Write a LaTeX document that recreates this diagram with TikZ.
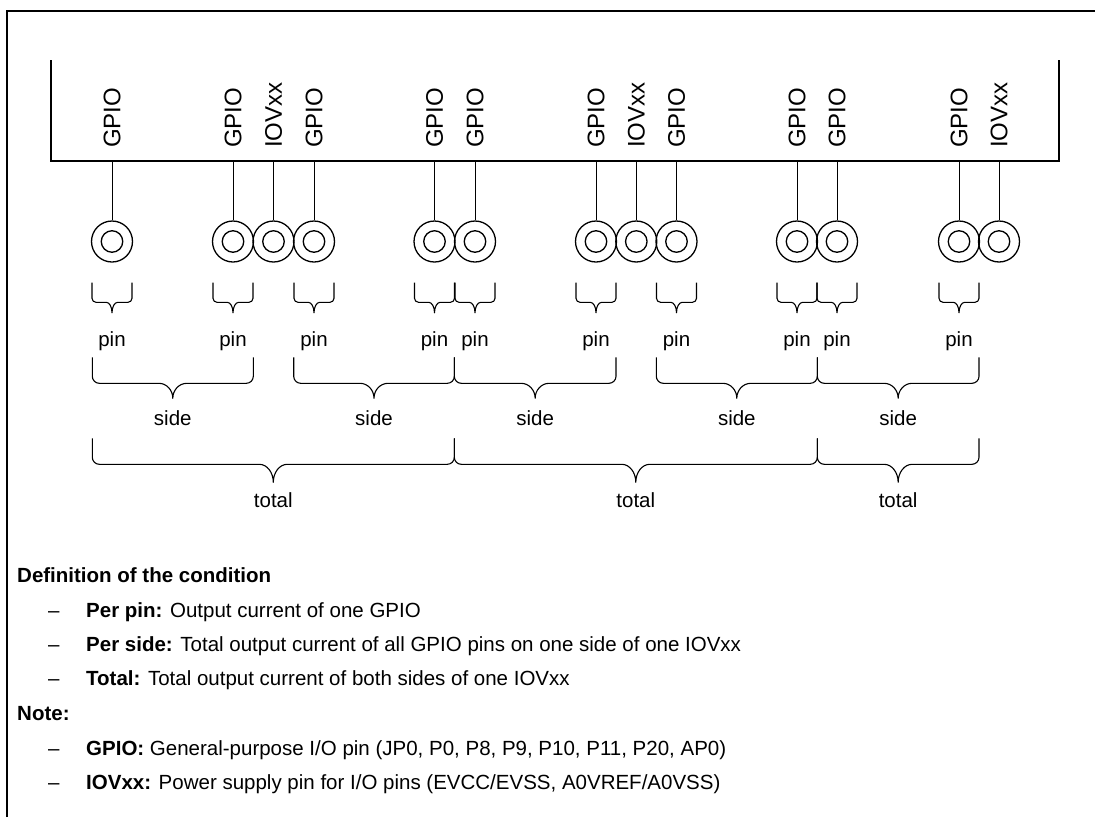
\documentclass[tikz,border=0pt]{standalone}
\usepackage{fontspec}
\setmainfont{Liberation Sans}

% Curly brace opening upwards: vertical arms, rounded corners, pointed tip below.
% #1 left x, #2 right x, #3 arm top y, #4 flat y, #5 tip depth, #6 tip half width, #7 corner radius
\newcommand\drawbrace[7]{%
  \pgfmathsetmacro\bxl{#1}%
  \pgfmathsetmacro\bxr{#2}%
  \pgfmathsetmacro\bxm{(\bxl+\bxr)/2}%
  \draw[bracepath] (\bxl,#3) -- (\bxl,#4-#7)
    .. controls (\bxl,#4-0.448*#7) and (\bxl+0.448*#7,#4) .. (\bxl+#7,#4)
    -- (\bxm-#6,#4)
    .. controls (\bxm-0.448*#6,#4) and (\bxm,#4+0.448*#5) .. (\bxm,#4+#5)
    .. controls (\bxm,#4+0.448*#5) and (\bxm+0.448*#6,#4) .. (\bxm+#6,#4)
    -- (\bxr-#7,#4)
    .. controls (\bxr-0.448*#7,#4) and (\bxr,#4-0.448*#7) .. (\bxr,#4-#7)
    -- (\bxr,#3);%
}

\begin{document}
\begin{tikzpicture}[x=1pt,y=-1pt,
  frame/.style={line width=2pt},
  chip/.style={line width=1.7pt},
  lead/.style={line width=1pt},
  pad/.style={circle,draw,line width=1.3pt,minimum size=41pt,inner sep=0pt},
  padhole/.style={circle,draw,line width=1.3pt,minimum size=21.5pt,inner sep=0pt},
  pinname/.style={rotate=90,anchor=west,inner sep=0pt,font=\fontsize{24}{24}\selectfont},
  bracelabel/.style={anchor=base,inner sep=0pt,font=\fontsize{20.5}{22}\selectfont},
  notetext/.style={anchor=base west,inner sep=0pt,font=\fontsize{20.5}{22}\selectfont},
  bracepath/.style={line width=1.1pt,line join=round}
]
\useasboundingbox (0,0) rectangle (1095,817);

% outer frame
\draw[frame] (7,817) -- (7,11) -- (1095,11);

% device outline
\draw[chip] (51,60) -- (51,161) -- (1059,161) -- (1059,60);

% pins with their names and pads
\foreach \x/\lab [count=\i] in {112/GPIO,233/GPIO,273.5/IOVxx,314/GPIO,434.5/GPIO,475/GPIO,
    596/GPIO,636.3/IOVxx,676.5/GPIO,797/GPIO,837/GPIO,959/GPIO,999/IOVxx} {
  \coordinate (lead\i) at (\x,161);
  \node[pinname] (name\i) at (\x,148) {\lab};
  \node[pad] (pad\i) at (\x,241.5) {};
  \node[padhole] (hole\i) at (\x,241.5) {};
  \draw[lead] (lead\i) -- (pad\i.north);
}

% per pin braces
\foreach \x [count=\i] in {112,233,314,434.5,475,596,676.5,797,837,959} {
  \drawbrace{\x-20}{\x+20}{282.7}{302.3}{10.4}{5.7}{4}
  \node[bracelabel] (pinlab\i) at (\x,346) {pin};
}

% per side braces
\foreach \a/\b [count=\i] in {92.3/253.3,293.7/454.3,454.3/616,656.3/817.3,817.3/979} {
  \drawbrace{\a}{\b}{357.3}{383.3}{15}{14}{7}
  \node[bracelabel] (sidelab\i) at ({(\a+\b)/2},425.3) {side};
}

% total braces
\foreach \a/\b [count=\i] in {92.3/454.3,454.3/817.3,817.3/979} {
  \drawbrace{\a}{\b}{438.3}{464.3}{18}{14}{7}
  \node[bracelabel] (totallab\i) at ({(\a+\b)/2},507.3) {total};
}

% definitions and notes
\node[notetext] (defhead) at (17,582) {\textbf{Definition of the condition}};
\node[notetext] (dashA) at (48,617) {–};
\node[notetext] (defpin) at (86,617) {\textbf{Per pin:} Output current of one GPIO};
\node[notetext] (dashB) at (48,651.7) {–};
\node[notetext] (defside) at (86,651.7) {\textbf{Per side:} Total output current of all GPIO pins on one side of one IOVxx};
\node[notetext] (dashC) at (48,685.7) {–};
\node[notetext] (deftotal) at (86,685.7) {\textbf{Total:} Total output current of both sides of one IOVxx};
\node[notetext] (notehead) at (17,720) {\textbf{Note:}};
\node[notetext] (dashD) at (48,755) {–};
\node[notetext] (notegpio) at (86,755) {\textbf{GPIO:} General-purpose I/O pin (JP0, P0, P8, P9, P10, P11, P20, AP0)};
\node[notetext] (dashE) at (48,789) {–};
\node[notetext] (noteiov) at (86,789) {\textbf{IOVxx:} Power supply pin for I/O pins (EVCC/EVSS, A0VREF/A0VSS)};
\end{tikzpicture}
\end{document}
